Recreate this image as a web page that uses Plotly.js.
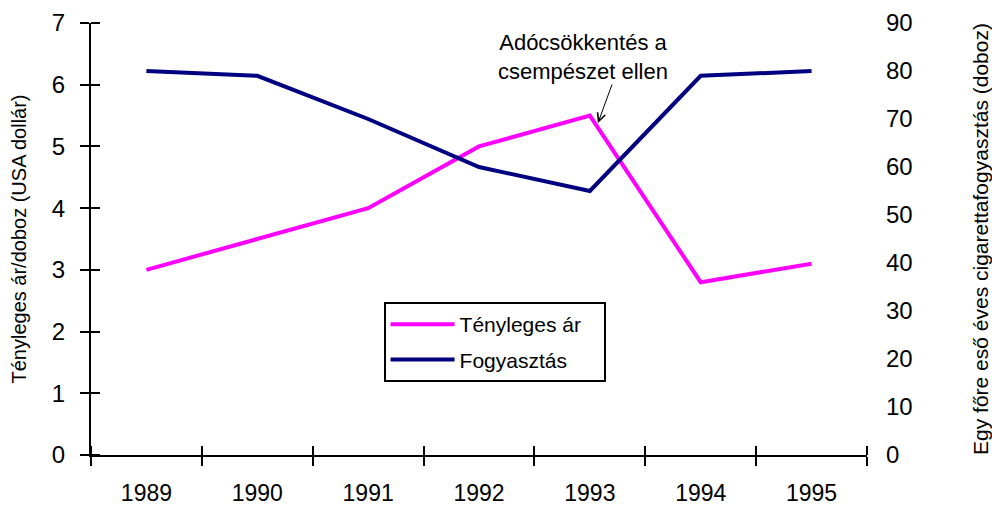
<!DOCTYPE html>
<html>
<head>
<meta charset="utf-8">
<script src="https://cdn.plot.ly/plotly-3.0.1.min.js"></script>
<style>html,body{margin:0;padding:0;background:#fff;}#chart{width:992px;height:506px;}</style>
</head>
<body>
<div id="chart"></div>
<script>
var years = [1989, 1990, 1991, 1992, 1993, 1994, 1995];
var yearLabels = ['1989', '1990', '1991', '1992', '1993', '1994', '1995'];
var price = [3.0, 3.5, 4.0, 5.0, 5.5, 2.8, 3.1];
var consumption = [80, 79, 70, 60, 55, 79, 80];
var leftTicks = [0, 1, 2, 3, 4, 5, 6, 7];
var rightTicks = [0, 10, 20, 30, 40, 50, 60, 70, 80, 90];

var FONT = 'Arial, "Liberation Sans", sans-serif';

// category boundaries (half a year either side of each year)
var boundaries = [years[0] - 0.5].concat(years.map(function(y){ return y + 0.5; }));
var xRange = [boundaries[0], boundaries[boundaries.length - 1]];
var yRange = [leftTicks[0], leftTicks[leftTicks.length - 1]];

// copy of tick positions nudged inward (invisible shift) for the inner half of "cross" ticks
function nudge(vals, lo, hi) {
  var eps = (hi - lo) * 1e-5;
  return vals.map(function(v){ return v >= hi ? v - eps : v + eps; });
}

var traces = [
  {x: years, y: price, name: 'Tényleges ár\u00a0\u00a0\u00a0', type: 'scatter', mode: 'lines', legendgroup: 'a',
   line: {color: '#FF00FF', width: 4}, xaxis: 'x', yaxis: 'y'},
  {x: years, y: consumption, name: 'Fogyasztás', type: 'scatter', mode: 'lines', legendgroup: 'b',
   line: {color: '#000080', width: 4}, xaxis: 'x', yaxis: 'y2'},
  // empty helper so the label axis x2 is drawn
  {x: years, y: years.map(function(){ return null; }), xaxis: 'x2', yaxis: 'y',
   type: 'scatter', mode: 'lines', showlegend: false, hoverinfo: 'skip'}
];

var layout = {
  width: 992, height: 506,
  margin: {l: 91, r: 125, t: 23, b: 51},
  paper_bgcolor: '#fff', plot_bgcolor: '#fff',
  font: {family: FONT, color: '#000'},
  showlegend: true,
  legend: {x: 0.377, y: 0.354, xanchor: 'left', yanchor: 'top',
           bordercolor: '#000', borderwidth: 2, bgcolor: '#fff',
           font: {size: 21, family: FONT}, tracegroupgap: 5, itemwidth: 64},
  // boundary ticks (crossing the axis line), no labels
  xaxis: {type: 'linear', range: xRange, tickmode: 'array', tickvals: boundaries,
          showticklabels: false,
          ticks: 'outside', ticklen: 9, tickwidth: 2, tickcolor: '#000',
          minor: {tickmode: 'array', tickvals: nudge(boundaries, xRange[0], xRange[1]), ticks: 'inside',
                  ticklen: 9, tickwidth: 2, tickcolor: '#000', showgrid: false},
          showline: true, linewidth: 2, linecolor: '#000', showgrid: false, zeroline: false},
  // year labels centred in each category
  xaxis2: {overlaying: 'x', side: 'bottom', anchor: 'y', type: 'linear', range: xRange,
           tickmode: 'array', tickvals: years, ticktext: yearLabels, ticks: '',
           showline: false, showgrid: false, zeroline: false,
           tickfont: {size: 23}, ticklabelstandoff: 22},
  yaxis: {range: yRange, tickmode: 'array', tickvals: leftTicks, ticks: 'outside', ticklen: 9,
          tickwidth: 2, tickcolor: '#000',
          minor: {tickmode: 'array', tickvals: nudge(leftTicks, yRange[0], yRange[1]), ticks: 'inside',
                  ticklen: 9, tickwidth: 2, tickcolor: '#000', showgrid: false},
          showline: true, linewidth: 2, linecolor: '#000',
          showgrid: false, zeroline: false, tickfont: {size: 24}, ticklabelstandoff: 10,
          title: {text: 'Tényleges ár/doboz (USA dollár)', font: {size: 20}, standoff: 20}},
  yaxis2: {overlaying: 'y', side: 'right', range: [0, 90], tickmode: 'array', tickvals: rightTicks,
           ticks: '', showline: false, showgrid: false, zeroline: false, tickfont: {size: 24},
           ticklabelstandoff: 18,
           title: {text: 'Egy főre eső éves cigarettafogyasztás (doboz)', font: {size: 21}, standoff: 61}},
  annotations: [
    {x: 1992.94, y: 6.45, xref: 'x', yref: 'y', text: 'Adócsökkentés a<br>csempészet ellen',
     showarrow: false, font: {size: 22, family: FONT}, xanchor: 'center', yanchor: 'middle'},
    {x: 1993.073, y: 5.38, xref: 'x', yref: 'y', text: ' ', showarrow: true, ax: 15, ay: -41,
     arrowhead: 5, arrowsize: 1.6, arrowwidth: 1, arrowcolor: '#000', font: {size: 2}}
  ]
};

Plotly.newPlot('chart', traces, layout, {staticPlot: true});
</script>
</body>
</html>
